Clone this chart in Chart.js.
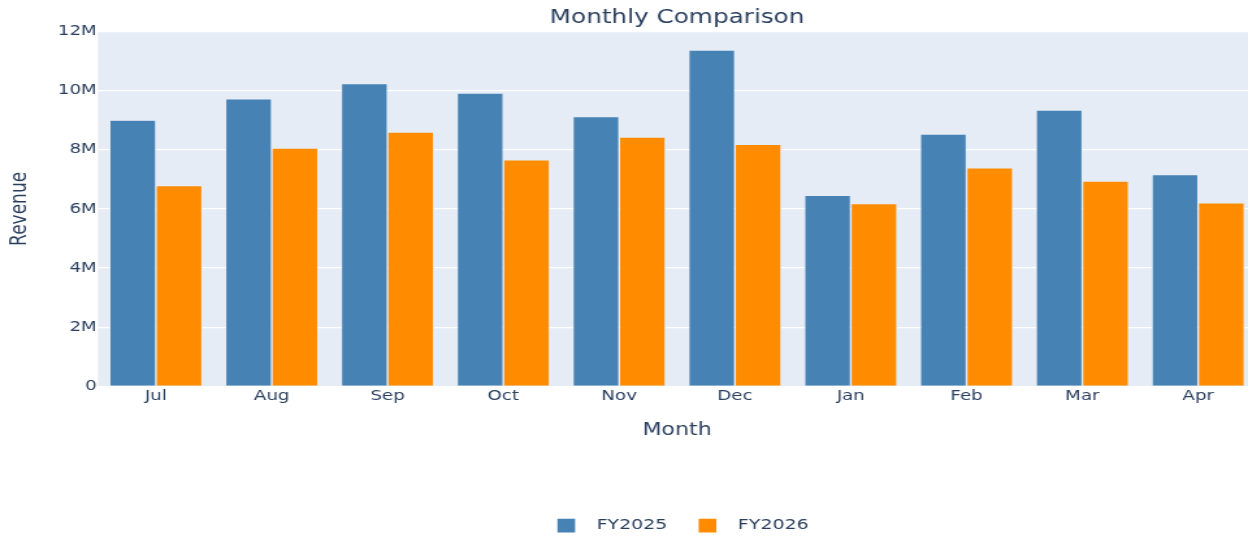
<!DOCTYPE html>
<html>
<head>
<meta charset="utf-8">
<title>Monthly Comparison</title>
<script src="https://cdn.jsdelivr.net/npm/chart.js@4.4.1/dist/chart.umd.min.js"></script>
<style>
  html, body { margin: 0; padding: 0; background: #fff; overflow: hidden; }
  /* the reference is stretched sideways and cut at the right edge,
     so the chart is drawn narrow, scaled, and a little wider than the window */
  #wrap { width: 966.2px; height: 543px; transform: scaleX(1.3); transform-origin: 0 0; }
</style>
</head>
<body>
<div id="wrap"><canvas id="monthly"></canvas></div>
<script>
var months = ["Jul", "Aug", "Sep", "Oct", "Nov", "Dec", "Jan", "Feb", "Mar", "Apr"];
var fy2025 = [9000000, 9720000, 10240000, 9920000, 9120000, 11370000, 6460000, 8530000, 9340000, 7160000];
var fy2026 = [6790000, 8060000, 8600000, 7660000, 8430000, 8180000, 6180000, 7390000, 6940000, 6210000];
var yTickLabels = ["0", "2M", "4M", "6M", "8M", "10M", "12M"];

Chart.defaults.font.family = "'DejaVu Sans', Verdana, sans-serif";
Chart.defaults.color = "#2a3f5f";

var plotBackground = {
    id: 'plotBackground',
    beforeDraw: function(chart) {
        var a = chart.chartArea;
        var ctx = chart.ctx;
        ctx.save();
        ctx.fillStyle = "#E5ECF6";
        ctx.fillRect(a.left, a.top, a.right - a.left, a.bottom - a.top);
        ctx.restore();
    },
    afterLayout: function(chart) {
        // centre title and legend over the plot area, not the whole canvas
        var a = chart.chartArea;
        chart.titleBlock.left = a.left;
        chart.titleBlock.right = a.right;
        chart.legend.left = a.left + 4.6;
        chart.legend.right = a.right + 4.6;
    }
};

var ctx = document.getElementById("monthly").getContext("2d");
var myBarChart = new Chart(ctx, {
    type: 'bar',
    data: {
        labels: months,
        datasets: [{
            label: "FY2025",
            data: fy2025,
            backgroundColor: "#4682B4",
            borderColor: "#E5ECF6",
            borderWidth: 0.7
        }, {
            label: "FY2026",
            data: fy2026,
            backgroundColor: "#FF8C00",
            borderColor: "#E5ECF6",
            borderWidth: 0.7
        }]
    },
    options: {
        responsive: true,
        maintainAspectRatio: false,
        animation: false,
        datasets: {
            bar: { categoryPercentage: 0.8, barPercentage: 1.0 }
        },
        layout: { padding: 0 },
        plugins: {
            title: {
                display: true,
                text: "Monthly Comparison",
                font: { size: 19, weight: 'normal' },
                padding: { top: 6.6, bottom: 2 }
            },
            legend: {
                position: 'bottom',
                labels: {
                    boxWidth: 13.6,
                    boxHeight: 13.8,
                    padding: 24,
                    font: { size: 14.6 },
                    generateLabels: function(chart) {
                        var items = Chart.defaults.plugins.legend.labels.generateLabels(chart);
                        items.forEach(function(it) {
                            it.text = "  " + it.text;
                            it.lineWidth = 0;
                        });
                        return items;
                    }
                }
            },
            tooltip: { enabled: false }
        },
        scales: {
            x: {
                grid: { display: false, drawTicks: false },
                border: { display: false },
                ticks: { font: { size: 14 }, padding: 2 },
                title: {
                    display: true,
                    text: "Month",
                    font: { size: 17 },
                    padding: { top: 13, bottom: 53.8 }
                }
            },
            y: {
                min: 0,
                max: 12000000,
                grid: { color: "#ffffff", lineWidth: 1.2, drawTicks: false },
                border: { display: false },
                ticks: {
                    stepSize: 2000000,
                    padding: 1,
                    font: { size: 14 },
                    callback: function(value, index) {
                        return yTickLabels[index];
                    }
                },
                title: {
                    display: true,
                    text: "Revenue",
                    font: { size: 17 },
                    padding: { top: 5, bottom: 0 }
                },
                afterFit: function(scale) {
                    scale.width = 75.4;
                }
            }
        }
    },
    plugins: [plotBackground]
});
</script>
</body>
</html>
